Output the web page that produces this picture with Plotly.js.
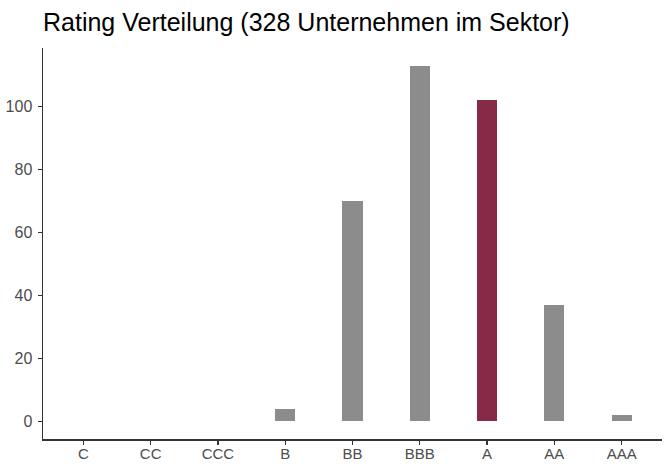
<!DOCTYPE html>
<html>
<head>
<meta charset="utf-8">
<script src="https://cdn.plot.ly/plotly-3.0.1.min.js"></script>
<style>html,body{margin:0;padding:0;background:#fff}#chart{width:667px;height:464px}</style>
</head>
<body>
<div id="chart"></div>
<script>
const categories = ["C", "CC", "CCC", "B", "BB", "BBB", "A", "AA", "AAA"];
const counts = [0, 0, 0, 4, 70, 113, 102, 37, 2];
const highlight = "A";
const yTicks = [0, 20, 40, 60, 80, 100];

const colors = categories.map(c => c === highlight ? "#862A47" : "#8C8C8C");

Plotly.newPlot("chart", [{
  type: "bar",
  x: categories,
  y: counts,
  width: 0.3,
  marker: {color: colors, line: {width: 0}},
  hoverinfo: "x+y"
}], {
  width: 667, height: 464,
  margin: {l: 43, r: 5, t: 48, b: 25},
  paper_bgcolor: "#fff", plot_bgcolor: "#fff",
  font: {family: "Liberation Sans, Arial, sans-serif"},
  title: {text: "Rating Verteilung (328 Unternehmen im Sektor)", x: 0, xref: "paper", xanchor: "left", y: 0.953, yanchor: "middle", font: {size: 25, color: "#000"}},
  xaxis: {type: "category", range: [-0.6, 8.6], showline: true, linecolor: "#333", linewidth: 1.5, ticks: "outside", ticklen: 4, tickcolor: "#333", tickwidth: 1.2, ticklabelstandoff: -4, tickfont: {size: 15, color: "#4D4D4D"}, showgrid: false, zeroline: false, fixedrange: true},
  yaxis: {range: [-5.65, 118.65], tickvals: yTicks, showline: true, linecolor: "#333", linewidth: 1.5, ticks: "outside", ticklen: 4, tickcolor: "#333", tickwidth: 1.2, ticklabelstandoff: 2, tickfont: {size: 16, color: "#4D4D4D"}, showgrid: false, zeroline: false, fixedrange: true},
  showlegend: false,
  bargap: 0
}, {displayModeBar: false, staticPlot: true});
</script>
</body>
</html>
